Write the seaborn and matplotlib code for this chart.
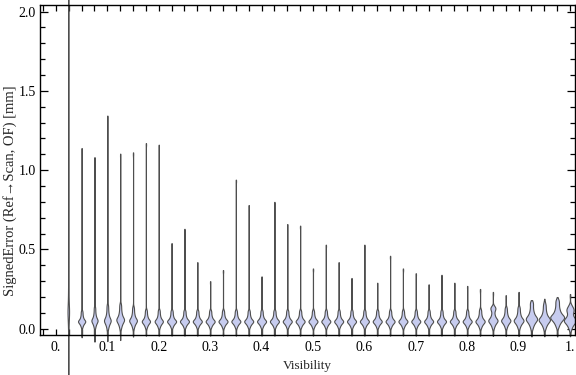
import numpy as np
import pandas as pd
import matplotlib
matplotlib.use("Agg")
import matplotlib.pyplot as plt
import seaborn as sns
from matplotlib.ticker import FixedLocator, MultipleLocator

# ---------------- data ----------------
visibility = [0.025, 0.05, 0.075, 0.1, 0.125, 0.15, 0.175, 0.2, 0.225, 0.25,
              0.275, 0.3, 0.325, 0.35, 0.375, 0.4, 0.425, 0.45, 0.475, 0.5,
              0.525, 0.55, 0.575, 0.6, 0.625, 0.65, 0.675, 0.7, 0.725, 0.75,
              0.775, 0.8, 0.825, 0.85, 0.875, 0.9, 0.925, 0.95, 0.975, 1.0]

max_err = [2.60, 1.13, 1.07, 1.33, 1.09, 1.10, 1.16, 1.15, 0.53, 0.62,
           0.41, 0.29, 0.36, 0.93, 0.77, 0.32, 0.79, 0.65, 0.64, 0.37,
           0.52, 0.41, 0.31, 0.52, 0.28, 0.45, 0.37, 0.34, 0.27, 0.33,
           0.28, 0.26, 0.24, 0.22, 0.20, 0.22, 0.165, 0.175, 0.185, 0.205]

min_err = [-0.27, -0.045, -0.07, -0.065, -0.058, -0.038, -0.034, -0.034, -0.034, -0.034,
           -0.034, -0.034, -0.034, -0.034, -0.034, -0.034, -0.034, -0.034, -0.034, -0.034,
           -0.034, -0.034, -0.034, -0.034, -0.034, -0.034, -0.034, -0.034, -0.034, -0.034,
           -0.034, -0.034, -0.034, -0.034, -0.034, -0.034, -0.034, -0.034, -0.034, -0.034]

bulb_center = [0.10, 0.045, 0.05, 0.05, 0.055, 0.05, 0.045, 0.045, 0.045, 0.045,
               0.045, 0.045, 0.045, 0.045, 0.045, 0.045, 0.045, 0.045, 0.045, 0.045,
               0.045, 0.045, 0.045, 0.045, 0.045, 0.045, 0.045, 0.045, 0.045, 0.045,
               0.045, 0.045, 0.045, 0.05, 0.05, 0.05, 0.06, 0.055, 0.07, 0.05]

bulb_spread = [0.08, 0.020, 0.026, 0.03, 0.03, 0.026, 0.022, 0.022, 0.021, 0.021,
               0.021, 0.021, 0.021, 0.021, 0.021, 0.021, 0.021, 0.021, 0.021, 0.021,
               0.021, 0.021, 0.021, 0.021, 0.021, 0.021, 0.021, 0.021, 0.021, 0.021,
               0.021, 0.021, 0.023, 0.026, 0.025, 0.026, 0.032, 0.030, 0.032, 0.030]

upper_bulb = [0.0] * 33 + [0.13, 0.0, 0.0, 0.0, 0.0, 0.0, 0.12]

violin_width = [0.003, 0.014, 0.012, 0.013, 0.015, 0.015, 0.016, 0.016, 0.0175, 0.0175,
                0.0175, 0.0175, 0.0175, 0.0175, 0.0175, 0.0175, 0.0175, 0.0175, 0.0175, 0.0175,
                0.0175, 0.0175, 0.0175, 0.0175, 0.0175, 0.0175, 0.0175, 0.0175, 0.0175, 0.0175,
                0.0175, 0.0175, 0.018, 0.018, 0.018, 0.019, 0.022, 0.022, 0.027, 0.024]

# standardized shape of the error cluster around the bulb centre (teardrop)
bulb_shape = [-1.8, -1.2, -0.9, -0.6, -0.4, -0.2, 0.0, 0.0, 0.1, 0.2, 0.4,
              0.6, 0.9, 1.2, 1.6, 2.1, 2.7, 3.3]
upper_shape = [-0.4, -0.1, 0.1, 0.4]

x_tick_vals = [0.0, 0.1, 0.2, 0.3, 0.4, 0.5, 0.6, 0.7, 0.8, 0.9, 1.0]
x_tick_labels = ["0.", "0.1", "0.2", "0.3", "0.4", "0.5", "0.6", "0.7", "0.8", "0.9", "1."]
y_tick_vals = [0.0, 0.5, 1.0, 1.5, 2.0]
y_tick_labels = ["0.0", "0.5", "1.0", "1.5", "2.0"]

# ---------------- style ----------------
sns.set_style("ticks")
plt.rcParams["font.family"] = ["Liberation Serif", "DejaVu Serif"]
plt.rcParams["axes.linewidth"] = 1.0

fill = "#c7ccef"
edge = "#4e4e4e"

fig = plt.figure(figsize=(5.76, 3.75), dpi=100)
ax = fig.add_axes([40 / 576, 1 - 335 / 375, 535 / 576, 330 / 375])

for x, lo, hi, c, s, up, w in zip(visibility, min_err, max_err, bulb_center,
                                  bulb_spread, upper_bulb, violin_width):
    vals = [c + s * t for t in bulb_shape] * 3 + [lo, hi]
    if up > 0:
        vals += [up + s * t for t in upper_shape] * 2
    vals = np.array(vals)
    bw = 0.45 * s / vals.std(ddof=1)
    df = pd.DataFrame({"Visibility": x, "err": vals})
    n0 = len(ax.collections)
    sns.violinplot(data=df, x="Visibility", y="err", native_scale=True, ax=ax,
                   cut=1, inner=None, width=w, bw_method=bw, gridsize=1500,
                   density_norm="width", color=fill, linecolor=edge,
                   linewidth=0.8, saturation=1)
    for coll in ax.collections[n0:]:
        coll.set_clip_on(False)

ax.set_xlim(-0.031, 1.0097)
ax.set_ylim(-0.040, 2.041)

ax.xaxis.set_major_locator(FixedLocator(x_tick_vals))
ax.set_xticklabels(x_tick_labels)
ax.xaxis.set_minor_locator(MultipleLocator(0.025))
ax.yaxis.set_major_locator(FixedLocator(y_tick_vals))
ax.set_yticklabels(y_tick_labels)
ax.yaxis.set_minor_locator(MultipleLocator(0.1))

ax.tick_params(which="both", direction="in", top=True, right=True,
               color="black", width=0.9, labelsize=10, labelcolor="black")
ax.tick_params(axis="x", which="both", length=4, pad=4)
ax.tick_params(axis="y", which="major", length=6, pad=3)
ax.tick_params(axis="y", which="minor", length=3.5)

for sp in ax.spines.values():
    sp.set_visible(True)
    sp.set_color("black")
    sp.set_zorder(5)

ax.set_xlabel("")
ax.set_ylabel("")
fig.text(307 / 576, 1 - 366 / 375, "Visibility", ha="center", va="center",
         fontsize=9.5)
fig.text(10 / 576, 1 - 191 / 375, "SignedError (Ref\u2192Scan, OF) [mm]",
         rotation=90, ha="center", va="center", fontsize=10.5)

fig.savefig("out.png", dpi=100)
